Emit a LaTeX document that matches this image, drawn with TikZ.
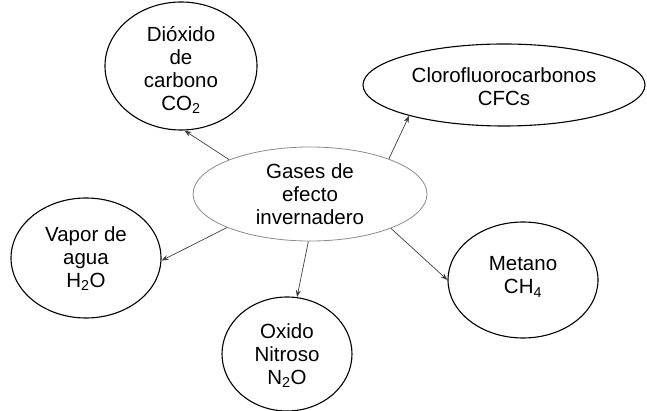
\documentclass[tikz,border=0pt]{standalone}
\usepackage{fontspec}
\setmainfont{Liberation Sans}
\usetikzlibrary{shapes.geometric,arrows.meta}
\begin{document}
\begin{tikzpicture}[x=1pt,y=-1pt,
  bubble/.style={ellipse,draw=black,line width=1.1pt,inner sep=0pt},
  hub/.style={ellipse,draw=black!45,line width=0.8pt,inner sep=0pt},
  txt/.style={align=center,inner sep=0pt,font=\fontsize{20.5}{23}\selectfont},
  link/.style={draw=black!75,line width=0.7pt,-{Stealth[length=7pt,width=5pt]}}]
\useasboundingbox (0,0) rectangle (647,411);
\fill[white] (0,0) rectangle (647,411);

% ellipses
\node[hub, minimum width=234pt, minimum height=94pt] (gases) at (310,194) {};
\node[bubble, minimum width=152pt, minimum height=128pt] (dioxido) at (181,66) {};
\node[bubble, minimum width=282pt, minimum height=82pt] (cfc) at (504,85) {};
\node[bubble, minimum width=150pt, minimum height=120pt] (vapor) at (86,258) {};
\node[bubble, minimum width=130pt, minimum height=114pt] (oxido) at (287,354) {};
\node[bubble, minimum width=150pt, minimum height=116pt] (metano) at (523,280) {};

% labels
\node[txt] (tgases) at (310,194) {Gases de\\efecto\\invernadero};
\node[txt] (tdioxido) at (181,70) {Dióxido\\de\\carbono\\CO\textsubscript{2}};
\node[txt] (tcfc) at (504,87) {Clorofluorocarbonos\\CFCs};
\node[txt] (tvapor) at (86,259) {Vapor de\\agua\\H\textsubscript{2}O};
\node[txt] (toxido) at (287,356) {Oxido\\Nitroso\\N\textsubscript{2}O};
\node[txt] (tmetano) at (523,277) {Metano\\CH\textsubscript{4}};

% connectors
\draw[link] (gases.157.5) -- (dioxido.273.5);
\draw[link] (gases.24.3) -- (cfc.198.3);
\draw[link] (gases.202.3) -- (vapor.358.6);
\draw[link] (gases.268) -- (oxido.80.4);
\draw[link] (gases.337.5) -- (metano.180);
\end{tikzpicture}
\end{document}
